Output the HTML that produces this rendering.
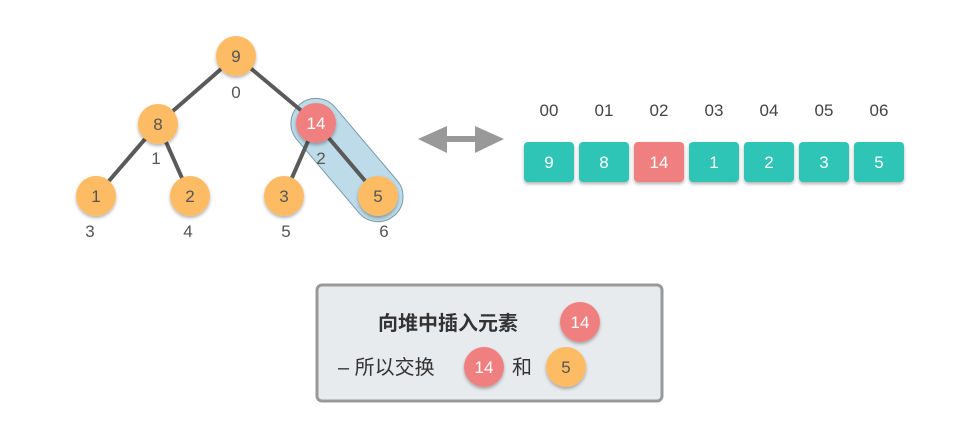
<!DOCTYPE html>
<html><head><meta charset="utf-8"><style>
html,body{margin:0;padding:0;background:#fff;}
svg{display:block;}
text{font-family:"Liberation Sans","Noto Sans CJK SC",sans-serif;}
</style></head><body>
<svg width="980" height="443" viewBox="0 0 980 443" xmlns="http://www.w3.org/2000/svg">
<defs>
<filter id="sh" x="-30%" y="-30%" width="160%" height="170%">
<feDropShadow dx="0" dy="2" stdDeviation="1.5" flood-color="#000" flood-opacity="0.3"/>
</filter>
</defs>
<!-- capsule -->
<g transform="translate(347,160) rotate(49.7)">
<rect x="-73" y="-25" width="146" height="50" rx="25" fill="#bddbe8" stroke="#7a9aa8" stroke-width="1"/>
</g>
<!-- edges -->
<g stroke="#5a5a5a" stroke-width="4" stroke-linecap="round">
<line x1="236" y1="56" x2="158" y2="124"/>
<line x1="236" y1="56" x2="316" y2="123"/>
<line x1="158" y1="124" x2="96" y2="196"/>
<line x1="158" y1="124" x2="190" y2="196"/>
<line x1="316" y1="123" x2="284" y2="196"/>
<line x1="316" y1="123" x2="378" y2="196"/>
</g>
<!-- nodes -->
<g filter="url(#sh)">
<circle cx="236" cy="56" r="20" fill="#fdbb63"/>
<circle cx="158" cy="124" r="20" fill="#fdbb63"/>
<circle cx="316" cy="123" r="20" fill="#f08080"/>
<circle cx="96" cy="196" r="20" fill="#fdbb63"/>
<circle cx="190" cy="196" r="20" fill="#fdbb63"/>
<circle cx="284" cy="196" r="20" fill="#fdbb63"/>
<circle cx="378" cy="196" r="20" fill="#fdbb63"/>
</g>
<g font-size="17" fill="#555" text-anchor="middle">
<text x="236" y="62">9</text>
<text x="158" y="130">8</text>
<text x="316" y="129" fill="#fff">14</text>
<text x="96" y="202">1</text>
<text x="190" y="202">2</text>
<text x="284" y="202">3</text>
<text x="378" y="202">5</text>
</g>
<g font-size="17" fill="#555" text-anchor="middle">
<text x="236" y="98">0</text>
<text x="156" y="164">1</text>
<text x="321" y="164">2</text>
<text x="90" y="237">3</text>
<text x="188" y="237">4</text>
<text x="286" y="237">5</text>
<text x="384" y="237">6</text>
</g>
<!-- double arrow -->
<path d="M418,139 L447,126 L447,136 L475,136 L475,126 L504,139 L475,153 L475,142 L447,142 L447,153 Z" fill="#999"/>
<!-- array -->
<g font-size="17" fill="#444" text-anchor="middle">
<text x="549" y="116">00</text><text x="604" y="116">01</text><text x="659" y="116">02</text><text x="714" y="116">03</text><text x="769" y="116">04</text><text x="824" y="116">05</text><text x="879" y="116">06</text>
</g>
<g filter="url(#sh)">
<rect x="524" y="142" width="50" height="40" rx="4" fill="#2ec4b6"/>
<rect x="579" y="142" width="50" height="40" rx="4" fill="#2ec4b6"/>
<rect x="634" y="142" width="50" height="40" rx="4" fill="#f08080"/>
<rect x="689" y="142" width="50" height="40" rx="4" fill="#2ec4b6"/>
<rect x="744" y="142" width="50" height="40" rx="4" fill="#2ec4b6"/>
<rect x="799" y="142" width="50" height="40" rx="4" fill="#2ec4b6"/>
<rect x="854" y="142" width="50" height="40" rx="4" fill="#2ec4b6"/>
</g>
<g font-size="17" fill="#fff" text-anchor="middle">
<text x="549" y="168">9</text><text x="604" y="168">8</text><text x="659" y="168">14</text><text x="714" y="168">1</text><text x="769" y="168">2</text><text x="824" y="168">3</text><text x="879" y="168">5</text>
</g>
<!-- box -->
<rect x="317" y="285" width="345" height="116" rx="5" fill="#e8ebee" stroke="#999" stroke-width="3"/>
<text x="378" y="330" font-size="20" font-weight="bold" fill="#333">向堆中插入元素</text>
<text x="338" y="374" font-size="20" fill="#333">– 所以交换</text>
<text x="512" y="374" font-size="20" fill="#333">和</text>
<g filter="url(#sh)">
<circle cx="580" cy="322" r="20" fill="#f08080"/>
<circle cx="484" cy="367" r="20" fill="#f08080"/>
<circle cx="566" cy="367" r="20" fill="#fdbb63"/>
</g>
<g font-size="17" text-anchor="middle">
<text x="580" y="328" fill="#fff">14</text>
<text x="484" y="373" fill="#fff">14</text>
<text x="566" y="373" fill="#555">5</text>
</g>
</svg>
</body></html>
